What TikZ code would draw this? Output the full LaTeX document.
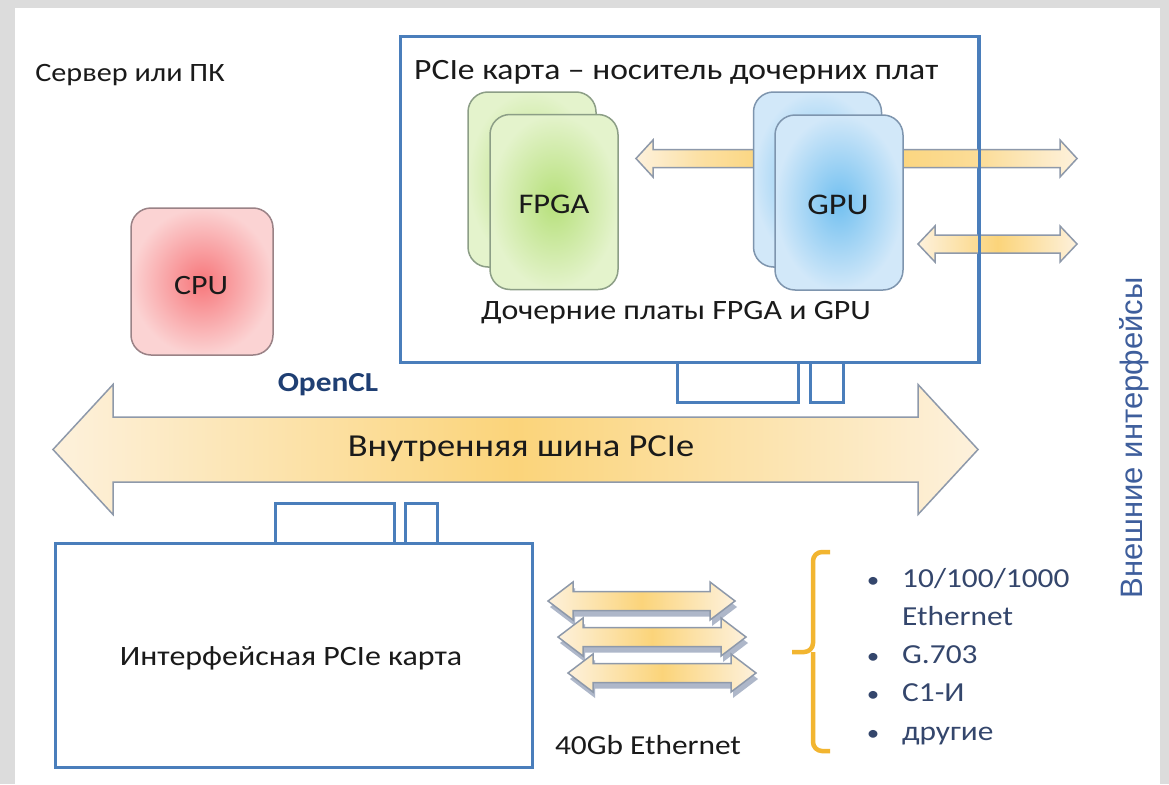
\documentclass[tikz,border=0pt]{standalone}
\usepackage{fontspec}
\setmainfont{Carlito}[FakeStretch=1.14]
\newfontfamily\arialf{Liberation Sans}
\usetikzlibrary{shadows}
\definecolor{cardblue}{HTML}{4A7EBB}
\definecolor{arrowedge}{HTML}{8E99AA}
\definecolor{goldA}{HTML}{FBD47A}
\definecolor{goldB}{HTML}{FDF1DC}
\definecolor{bracegold}{HTML}{F2B530}
\definecolor{listblue}{HTML}{34466C}
\definecolor{sideblue}{HTML}{3E5E9C}
\definecolor{openclblue}{HTML}{1F3F73}
\definecolor{txt}{HTML}{1A1A1A}
\definecolor{bgray}{HTML}{DCDCDC}
\definecolor{fpgain}{HTML}{B6E07A}
\definecolor{fpgaout}{HTML}{E4F3CC}
\definecolor{fpgaedge}{HTML}{8C9E86}
\definecolor{gpuin}{HTML}{72C0F0}
\definecolor{gpuout}{HTML}{D2E8F9}
\definecolor{gpuedge}{HTML}{7E95AE}
\definecolor{cpuin}{HTML}{F7777B}
\definecolor{cpuout}{HTML}{FBD3D3}
\definecolor{cpuedge}{HTML}{9A8286}
\definecolor{shadowc}{HTML}{9AA6BC}
\tikzset{
  card/.style={draw=cardblue, line width=3pt, fill=white, inner sep=0pt},
  cardline/.style={draw=cardblue, line width=3pt},
  board/.style={rounded corners=20pt, line width=1.5pt, inner sep=0pt, minimum width=128pt, minimum height=175pt},
  fpgabox/.style={board, draw=fpgaedge, inner color=fpgain, outer color=fpgaout},
  gpubox/.style={board, draw=gpuedge, inner color=gpuin, outer color=gpuout},
  cpubox/.style={board, draw=cpuedge, inner color=cpuin, outer color=cpuout, minimum width=142pt, minimum height=147pt},
  blockarrow/.style={draw=arrowedge, line width=1.5pt, line join=miter, left color=goldB, right color=goldB, middle color=goldA},
  lbl/.style={text=txt, font=\fontsize{28}{32}\selectfont, inner sep=0pt},
  listtxt/.style={text=listblue, font=\fontsize{27.5}{32}\selectfont, inner sep=0pt, anchor=west, text height=19pt, text depth=5pt},
  bul/.style={text=listblue, font=\fontsize{22}{26}\selectfont, inner sep=0pt, text height=19pt, text depth=5pt},
  ashadow/.style={drop shadow={shadow xshift=2pt, shadow yshift=-6pt, fill=shadowc, opacity=0.8}}
}
\newcommand{\DArrow}[7][]{%
  \draw[blockarrow,#1] (#2,#4) -- (#2+#7,#4-#5) -- (#2+#7,#4-#6) -- (#3-#7,#4-#6) -- (#3-#7,#4-#5) -- (#3,#4)
    -- (#3-#7,#4+#5) -- (#3-#7,#4+#6) -- (#2+#7,#4+#6) -- (#2+#7,#4+#5) -- cycle;}
\begin{document}
\begin{tikzpicture}[x=1pt,y=-1pt]
\fill[bgray] (0,0) rectangle (1169,784);
\fill[white] (15,8) rectangle (1160,784);
\useasboundingbox (0,0) rectangle (1169,784);

% server label
\node[lbl, font=\fontsize{26.5}{30}\selectfont] (server) at (130,75) {Сервер или ПК};

% top carrier card
\node[card, minimum width=578pt, minimum height=325pt] (topcard) at (689,199.5) {};
\node[card, minimum width=121pt, minimum height=40pt] (ttab1) at (738,382) {};
\node[card, minimum width=33pt, minimum height=40pt] (ttab2) at (826.5,382) {};
\node[lbl, anchor=west, font=\fontsize{29.5}{34}\selectfont] (toptitle) at (414,72) {PCIe карта – носитель дочерних плат};

% arrows inside top card
\draw[blockarrow, left color=goldB, right color=goldA, middle color=goldA!60!goldB]
  (636,158.5) -- (653,140) -- (653,149.5) -- (770,149.5) -- (770,167.5) -- (653,167.5) -- (653,177) -- cycle;
\draw[blockarrow, left color=goldA, right color=goldB, middle color=goldA!70!goldB]
  (880,149.5) -- (1060,149.5) -- (1060,140) -- (1077,158.5) -- (1060,177) -- (1060,167.5) -- (880,167.5) -- cycle;
\DArrow{918}{1077}{244}{18}{9}{17}
\draw[cardline] (topcard.north east) -- (topcard.south east);

% daughter boards
\node[fpgabox] (fpgab) at (532,179.5) {};
\node[fpgabox] (fpga) at (554,202) {};
\node[lbl, font=\fontsize{28.5}{32}\selectfont] at (554,204) {FPGA};
\node[gpubox] (gpub) at (817.5,179.5) {};
\node[gpubox] (gpu) at (839,202.5) {};
\node[lbl, font=\fontsize{30}{32}\selectfont] at (838,205) {GPU};
\node[lbl] (dlabel) at (676,313) {Дочерние платы FPGA и GPU};

% CPU
\node[cpubox] (cpu) at (202,281.5) {};
\node[lbl] at (201,286) {CPU};
\node[text=openclblue, font=\bfseries\fontsize{27.5}{32}\selectfont, inner sep=0pt] (opencl) at (328,385) {OpenCL};

% internal bus
\DArrow{53}{978}{449.5}{65}{32.5}{60}
\node[lbl, font=\fontsize{32}{36}\selectfont] (bus) at (521,449) {Внутренняя шина PCIe};

% bottom interface card
\node[card, minimum width=119pt, minimum height=40pt] (btab1) at (334.5,523) {};
\node[card, minimum width=32pt, minimum height=40pt] (btab2) at (421,523) {};
\node[card, minimum width=477pt, minimum height=224pt] (botcard) at (293.5,655) {};
\node[lbl] (iface) at (291,658) {Интерфейсная PCIe карта};

% 40Gb ethernet arrows
\DArrow[ashadow]{548}{735}{601}{19}{9.5}{25}
\DArrow[ashadow]{558}{746}{637}{19}{9.5}{25}
\DArrow[ashadow]{568}{756}{673}{19}{9.5}{25}
\node[lbl, font=\fontsize{27.5}{32}\selectfont] (eth40) at (648,745) {40Gb Ethernet};

% brace
\coordinate (bracetip) at (792,652);
\draw[bracegold, line width=4.5pt, rounded corners=9pt] (830,552) -| (813,652) -- (bracetip);
\draw[bracegold, line width=4.5pt, rounded corners=9pt] (830,751) -| (813,652);

% list
\node[bul] (b1) at (873,580) {•};
\node[listtxt] (l1) at (902,580) {10/100/1000};
\node[listtxt] (l1b) at (902,618) {Ethernet};
\node[bul] (b2) at (873,656) {•};
\node[listtxt] (l2) at (902,656) {G.703};
\node[bul] (b3) at (873,694) {•};
\node[listtxt] (l3) at (902,694) {С1-И};
\node[bul] (b4) at (873,733) {•};
\node[listtxt] (l4) at (902,733) {другие};

% side label
\node[rotate=90, text=sideblue, font=\arialf\fontsize{31}{36}\selectfont, inner sep=0pt] (ext) at (1134,438) {Внешние интерфейсы};
\end{tikzpicture}
\end{document}
